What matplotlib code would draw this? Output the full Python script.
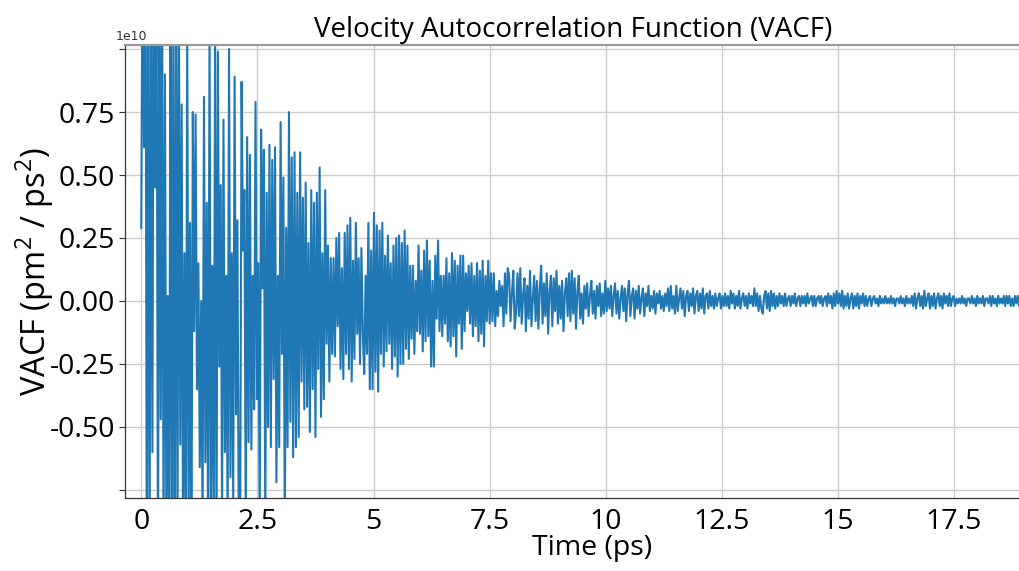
import numpy as np
import matplotlib
matplotlib.use('Agg')
import matplotlib.pyplot as plt
from matplotlib.ticker import FixedLocator, FuncFormatter

# sampling step of the VACF curve (ps)
dt_ps = 0.03

# VACF, in units of 1e8 pm^2/ps^2
# 0 - 2.1 ps (strongly clipped part)
vacf_0 = [29, 150, 61, 170, -120, 140, -100, 130, -60, 160, 45, 130, -110, 125, -47, 120,
          -100, 90, -90, 2, -110, 130, -100, 110, -120, 140, -95, 120, -57, 78, -100, 19,
          -100, 110, -90, 31, -110, 75, -12, 74, -35, 15, -66, 0, -90, 81, -64, 39,
          -100, 110, -85, 14, -95, 105, -100, 99, -26, 46, -85, 72, -60, 10, -90, 100,
          -70, 19, -80, 89, -45, 32, -95]
# 2.1 - 4.7 ps
vacf_1 = [-90, 87, 20, 44, -90, 65, -56, 58, -59, 10, -43, 79, -39, 15, -90, 68,
          5, 60, -90, 43, -50, 62, -58, 56, -31, 61, -72, 10, -58, 71, -21, 49,
          -90, 29, -58, 75, -48, 57, -62, 59, -58, 43, -54, 59, -32, 41, -43, 47,
          -42, 23, -52, 44, -35, 39, -54, 43, -27, 53, -46, 19, -39, 44, -17, 22,
          -32, 17, -21, 17, -22, 25, -10, 27, -27, 13, -31, 27, -21, 30, -27, 33,
          -32, 16, -23, 31, -13, 17, -25, 21, -13]
# 4.7 - 7.8 ps
vacf_2 = [-29, 10, -21, 31, -35, 20, -35, 35, -28, 30, -36, 28, -21, 31, -26, 18,
          -20, 26, -17, 15, -27, 22, -22, 25, -30, 26, -25, 23, -25, 28, -19, 22,
          -23, 14, -15, 14, -21, 8, -12, 22, -13, 12, -20, 20, -16, 24, -14, 16,
          -26, 8, -26, 18, -7, 24, -12, 10, -14, 10, -9, 17, -16, 11, -18, 19,
          -14, 16, -22, 14, -9, 18, -19, 18, -12, 11, -4, 14, -9, 15, -14, 10,
          -10, 15, -16, 12, -13, 16, -18, 10, -8, 16, -9, 11, -8, 11, -10, 4,
          -6, 8, -2, 6, -10, 11, -5, 13]
# 7.8 - 10 ps
vacf_3 = [10, -8, 3, 12, -11, -4, 11, -6, 13, -9, 2, 9, -12, 6, -7, 12, -10, 1, 10, -8, 8, -11,
          5, 14, -9, 7, -6, 11, -13, 4, 10, -10, 9, -4, 12, -9, 6, -7, 8, -12, 3, 9, -6, 11, -8,
          12, -5, 9, -11, 4, 10, -7, 3, -9, 6, -3, 7, -6, 2, 8, -5, 4, -7, 6, -2, 7, -6, 3, -5,
          8, -4, 5]
# 10 - 13.3 ps
vacf_4 = [-3, 6, -6, 2, 7, -5, 4, -7, 1, 6, -4, 5, -8, 3, 8, -6, 2, 5, -7, 4, -3, 6, -5, 1,
          5, -6, 3, -2, 6, -4, 2, -3, 4, -5, 3, -1, 4, -3, 2, -4,
          3, -2, 5, -4, 6, -3, 2, -5, 6, -4, 1, 5, -3, 4, -6, 2, 4, -4, 3, -2, 5, -5, 2, 4,
          -4, 3, -3, 5, -5, 2, 3, -3, 4, -2, 2, -3, 3, -2, 1, 3, -3, 2, -2,
          3, -2, 2, -3, 4, -1, 3, -3, 2, -2, 4, -3, 1, 3, -2, 2, -3, 3, -1, 2, -2, 5, -2, 3,
          -4, 2, -3]
# 13.3 - 19 ps
vacf_5 = [-5, 2, 4, -3, 3, -4, 4, -2, 3, -3, 2, -2, 3, -1, 2, -2, 3, -2, 1, 2, -2, 2, -1, 3,
          -2, 1, 2, -2, 2, -1, 2, -2, 3, -1, 1, 2, -2, 2, -2, 1, 2, -1, 2, -2, 1, 2, -2, 3,
          -1, 2, -3, 3, -2, 4, -1, 3, -2,
          4, -3, 2, -2, 3, -3, 1, 3, -3, 2, -2, 3, -3, 2, -1, 3, -2, 2, -2, 1, 2, -2, 1, 2,
          -1, 1, -2, 2, -1, 1, -1, 2, -1, 1, -1, 2, -1, 1, -2, 1, 1, -1, 2, -1, 1, -2, 2, -1,
          1, -1,
          2, -2, 3, -3, 1, 3, -2, 2, -3, 4, -2, 1, 3, -3, 2, -2, 3, -3, 1, 3, -2, 2, -3, 3,
          -1, 2, -2, 3, -2, 1, 2, -2, 1,
          -1, 1, -1, 2, -1, 1, -2, 1, 1, -1, 2, -1, 1, -2, 2, -1, 1, -1, 2, -2, 1, 1, -1, 2,
          -2, 2, -1, 1, -2, 2, -1, 1, -1, 2, -2, 2, -1, 2, -2, 1, -2, 2, -1, 2, -2, 1, -1, 2]

x_ticks = [0, 2.5, 5, 7.5, 10, 12.5, 15, 17.5]
y_ticks = [-0.75, -0.5, -0.25, 0.0, 0.25, 0.5, 0.75, 1.0]
y_labeled = [-0.5, -0.25, 0.0, 0.25, 0.5, 0.75]

vacf = np.array(vacf_0 + vacf_1 + vacf_2 + vacf_3 + vacf_4 + vacf_5, dtype=float) * 1e8
time = np.arange(len(vacf)) * dt_ps

plt.rcParams['font.family'] = ['Open Sans', 'DejaVu Sans']
plt.rcParams['mathtext.fontset'] = 'custom'
plt.rcParams['mathtext.rm'] = 'Open Sans'
plt.rcParams['axes.unicode_minus'] = False

fig = plt.figure(figsize=(10.2, 5.71), dpi=100)
ax = fig.add_axes([125 / 1020, 73 / 571, 896 / 1020, 453 / 571])

ax.plot(time, vacf, color='#1f77b4', lw=1.5)

ax.set_xlim(-0.35, 18.94)
ax.set_ylim(-0.782e10, 1.016e10)

ax.xaxis.set_major_locator(FixedLocator(x_ticks))
ax.xaxis.set_major_formatter(FuncFormatter(lambda v, p: '%g' % v))
ax.yaxis.set_major_locator(FixedLocator([v * 1e10 for v in y_ticks]))
ax.yaxis.set_major_formatter(FuncFormatter(
    lambda v, p: ('%.2f' % (v / 1e10)) if round(v / 1e10, 2) in y_labeled else ''))

ax.grid(True, color='#cccccc', lw=1.0)
ax.set_axisbelow(True)
ax.tick_params(axis='x', length=0, pad=7, labelsize=20.5)
ax.tick_params(axis='y', length=4, width=0.8, color='#333333', pad=3, labelsize=20.5)

for side in ['left', 'bottom']:
    ax.spines[side].set_color('#333333')
    ax.spines[side].set_linewidth(0.9)
ax.spines['top'].set_color('#999999')
ax.spines['top'].set_linewidth(1.6)
ax.spines['right'].set_visible(False)

ax.set_title('Velocity Autocorrelation Function (VACF)', fontsize=20, pad=6)
ax.set_xlabel('Time (ps)', fontsize=20.5)
ax.xaxis.set_label_coords((592 - 125) / 896, -0.079)
ax.set_ylabel('VACF (pm$^2$ / ps$^2$)', fontsize=23.5)
ax.yaxis.set_label_coords((56 - 125) / 896, 0.5)

fig.text(116 / 1020, 1 - 37 / 571, '1e10', fontsize=9, va='center', ha='left',
         family='DejaVu Sans', color='#333333')

fig.savefig('out.png', dpi=100)
